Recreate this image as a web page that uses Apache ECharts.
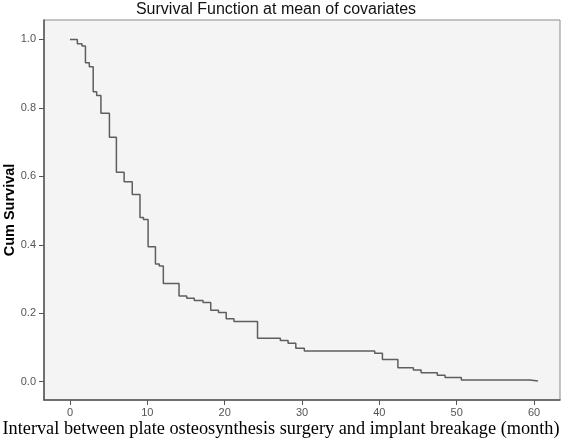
<!DOCTYPE html>
<html>
<head>
<meta charset="utf-8">
<script src="https://cdn.jsdelivr.net/npm/echarts@6/dist/echarts.min.js"></script>
<style>
html,body{margin:0;padding:0;background:#fff;}
#c{width:567px;height:444px;}
</style>
</head>
<body>
<div id="c"></div>
<script>
const titleText = 'Survival Function at mean of covariates';
const xAxisTitle = 'Interval between plate osteosynthesis surgery and implant breakage (month)';
const yAxisTitle = 'Cum Survival';
const xTicks = [0, 10, 20, 30, 40, 50, 60];
const yTicks = [0, 0.2, 0.4, 0.6, 0.8, 1.0];
const times = [0, 0.95, 1.55, 2.0, 2.5, 3.0, 3.45, 4.0, 5.1, 6.0, 7.0, 8.05, 9.05, 9.5, 10.1, 11.05, 11.55, 12.07, 14.1, 15.1, 16.07, 17.2, 18.2, 19.2, 20.2, 21.2, 24.25, 27.2, 28.2, 29.2, 30.3, 39.4, 40.4, 42.4, 44.4, 45.4, 47.5, 48.5, 50.6, 59.5, 60.5];
const survival = [1.0, 0.987, 0.981, 0.932, 0.920, 0.847, 0.836, 0.784, 0.714, 0.612, 0.584, 0.547, 0.480, 0.474, 0.394, 0.344, 0.338, 0.287, 0.250, 0.244, 0.237, 0.231, 0.209, 0.202, 0.184, 0.176, 0.127, 0.120, 0.112, 0.098, 0.090, 0.083, 0.065, 0.041, 0.034, 0.026, 0.019, 0.012, 0.005, 0.002, 0.002];

const points = times.map((t, i) => [t, survival[i]]);
const chart = echarts.init(document.getElementById('c'), null, {renderer: 'canvas'});
chart.setOption({
  backgroundColor: '#ffffff',
  animation: false,
  title: {
    text: titleText,
    left: 271, top: -3, textAlign: 'center',
    textStyle: {fontFamily: 'Liberation Sans, Arial', fontSize: 16, fontWeight: 'normal', color: '#111'}
  },
  grid: {
    left: 44, right: 7, top: 20, bottom: 44,
    outerBoundsMode: 'none', containLabel: false,
    show: true, backgroundColor: '#f4f4f4', borderColor: '#8a8a8a', borderWidth: 1
  },
  xAxis: {
    type: 'value', min: -3.36, max: 63.36,
    name: xAxisTitle, nameLocation: 'middle', nameGap: 20, nameMoveOverlap: false,
    nameTextStyle: {fontFamily: 'Liberation Serif, Times New Roman', fontSize: 18.3, color: '#000', padding: [0, 42, 0, 0], verticalAlign: 'top'},
    axisLine: {show: true, onZero: false, lineStyle: {color: '#555', width: 1.5}},
    axisTick: {show: true, length: 5, customValues: xTicks, lineStyle: {color: '#555'}},
    axisLabel: {customValues: xTicks, fontFamily: 'Liberation Sans, Arial', fontSize: 11, color: '#555', margin: 7},
    splitLine: {show: false}
  },
  yAxis: {
    type: 'value', min: -0.0535, max: 1.0567,
    name: yAxisTitle, nameLocation: 'middle', nameGap: 27, nameRotate: 90, nameMoveOverlap: false,
    nameTextStyle: {fontFamily: 'Liberation Sans, Arial', fontSize: 14.5, fontWeight: 'bold', color: '#000'},
    axisLine: {show: true, onZero: false, lineStyle: {color: '#555', width: 1.5}},
    axisTick: {show: true, length: 5, customValues: yTicks, lineStyle: {color: '#555'}},
    axisLabel: {customValues: yTicks, formatter: v => v.toFixed(1), fontFamily: 'Liberation Sans, Arial', fontSize: 11, color: '#555', margin: 8},
    splitLine: {show: false}
  },
  series: [{
    type: 'line', step: 'end', data: points, showSymbol: false, symbol: 'none',
    lineStyle: {color: '#5e5e5e', width: 1.5}, clip: false
  }]
});
</script>
</body>
</html>
